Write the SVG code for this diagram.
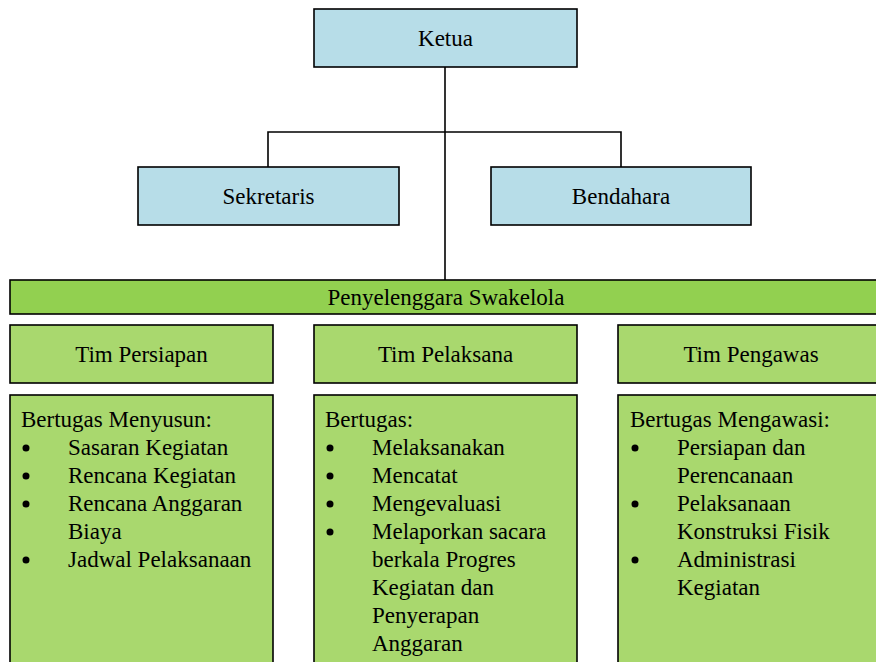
<svg xmlns="http://www.w3.org/2000/svg" width="876" height="662" viewBox="0 0 876 662" font-family="'Liberation Serif', 'Times New Roman', Times, serif" font-size="23">
  <style>
    text { font-family: "Liberation Serif", "Times New Roman", Times, serif; font-size: 23px; fill: #000; }
    .mid { text-anchor: middle; }
    .blue { fill: #b7dde8; stroke: #000; stroke-width: 1.6; }
    .bar { fill: #92d050; stroke: #000; stroke-width: 1.6; }
    .green { fill: #a9d86e; stroke: #000; stroke-width: 1.6; }
    .link { fill: none; stroke: #000; stroke-width: 1.6; }
    .dot { fill: #000; }
  </style>

  <!-- connectors -->
  <g id="connectors">
    <line class="link" x1="445" y1="67" x2="445" y2="280"/>
    <polyline class="link" points="268,167 268,132 621,132 621,167"/>
  </g>

  <g id="ketua">
    <rect class="blue" x="314" y="9" width="263" height="58"/>
    <text class="mid" x="445.5" y="46">Ketua</text>
  </g>

  <g id="sekretaris">
    <rect class="blue" x="138" y="167" width="261" height="58"/>
    <text class="mid" x="268.5" y="204">Sekretaris</text>
  </g>

  <g id="bendahara">
    <rect class="blue" x="491" y="167" width="260" height="58"/>
    <text class="mid" x="621" y="204">Bendahara</text>
  </g>

  <g id="penyelenggara">
    <rect class="bar" x="10" y="280" width="880" height="34"/>
    <text class="mid" x="446" y="305">Penyelenggara Swakelola</text>
  </g>

  <g id="tim-persiapan">
    <rect class="green" x="10" y="325" width="263" height="58"/>
    <text class="mid" x="141.5" y="362">Tim Persiapan</text>
  </g>

  <g id="tim-pelaksana">
    <rect class="green" x="314" y="325" width="263" height="58"/>
    <text class="mid" x="445.5" y="362">Tim Pelaksana</text>
  </g>

  <g id="tim-pengawas">
    <rect class="green" x="618" y="325" width="270" height="58"/>
    <text class="mid" x="751" y="362">Tim Pengawas</text>
  </g>

  <g id="tugas-persiapan">
    <rect class="green" x="10" y="395" width="263" height="280"/>
    <text x="21" y="427">Bertugas Menyusun:</text>
    <circle class="dot" cx="26" cy="448" r="3.5"/>
    <text x="68" y="455">Sasaran Kegiatan</text>
    <circle class="dot" cx="26" cy="476" r="3.5"/>
    <text x="68" y="483">Rencana Kegiatan</text>
    <circle class="dot" cx="26" cy="504" r="3.5"/>
    <text x="68" y="511">Rencana Anggaran</text>
    <text x="68" y="539">Biaya</text>
    <circle class="dot" cx="26" cy="560" r="3.5"/>
    <text x="68" y="567">Jadwal Pelaksanaan</text>
  </g>

  <g id="tugas-pelaksana">
    <rect class="green" x="314" y="395" width="263" height="280"/>
    <text x="325" y="427">Bertugas:</text>
    <circle class="dot" cx="330" cy="448" r="3.5"/>
    <text x="372" y="455">Melaksanakan</text>
    <circle class="dot" cx="330" cy="476" r="3.5"/>
    <text x="372" y="483">Mencatat</text>
    <circle class="dot" cx="330" cy="504" r="3.5"/>
    <text x="372" y="511">Mengevaluasi</text>
    <circle class="dot" cx="330" cy="532" r="3.5"/>
    <text x="372" y="539">Melaporkan sacara</text>
    <text x="372" y="567">berkala Progres</text>
    <text x="372" y="595">Kegiatan dan</text>
    <text x="372" y="623">Penyerapan</text>
    <text x="372" y="651">Anggaran</text>
  </g>

  <g id="tugas-pengawas">
    <rect class="green" x="618" y="395" width="270" height="280"/>
    <text x="630" y="427">Bertugas Mengawasi:</text>
    <circle class="dot" cx="635" cy="448" r="3.5"/>
    <text x="677" y="455">Persiapan dan</text>
    <text x="677" y="483">Perencanaan</text>
    <circle class="dot" cx="635" cy="504" r="3.5"/>
    <text x="677" y="511">Pelaksanaan</text>
    <text x="677" y="539">Konstruksi Fisik</text>
    <circle class="dot" cx="635" cy="560" r="3.5"/>
    <text x="677" y="567">Administrasi</text>
    <text x="677" y="595">Kegiatan</text>
  </g>
</svg>
